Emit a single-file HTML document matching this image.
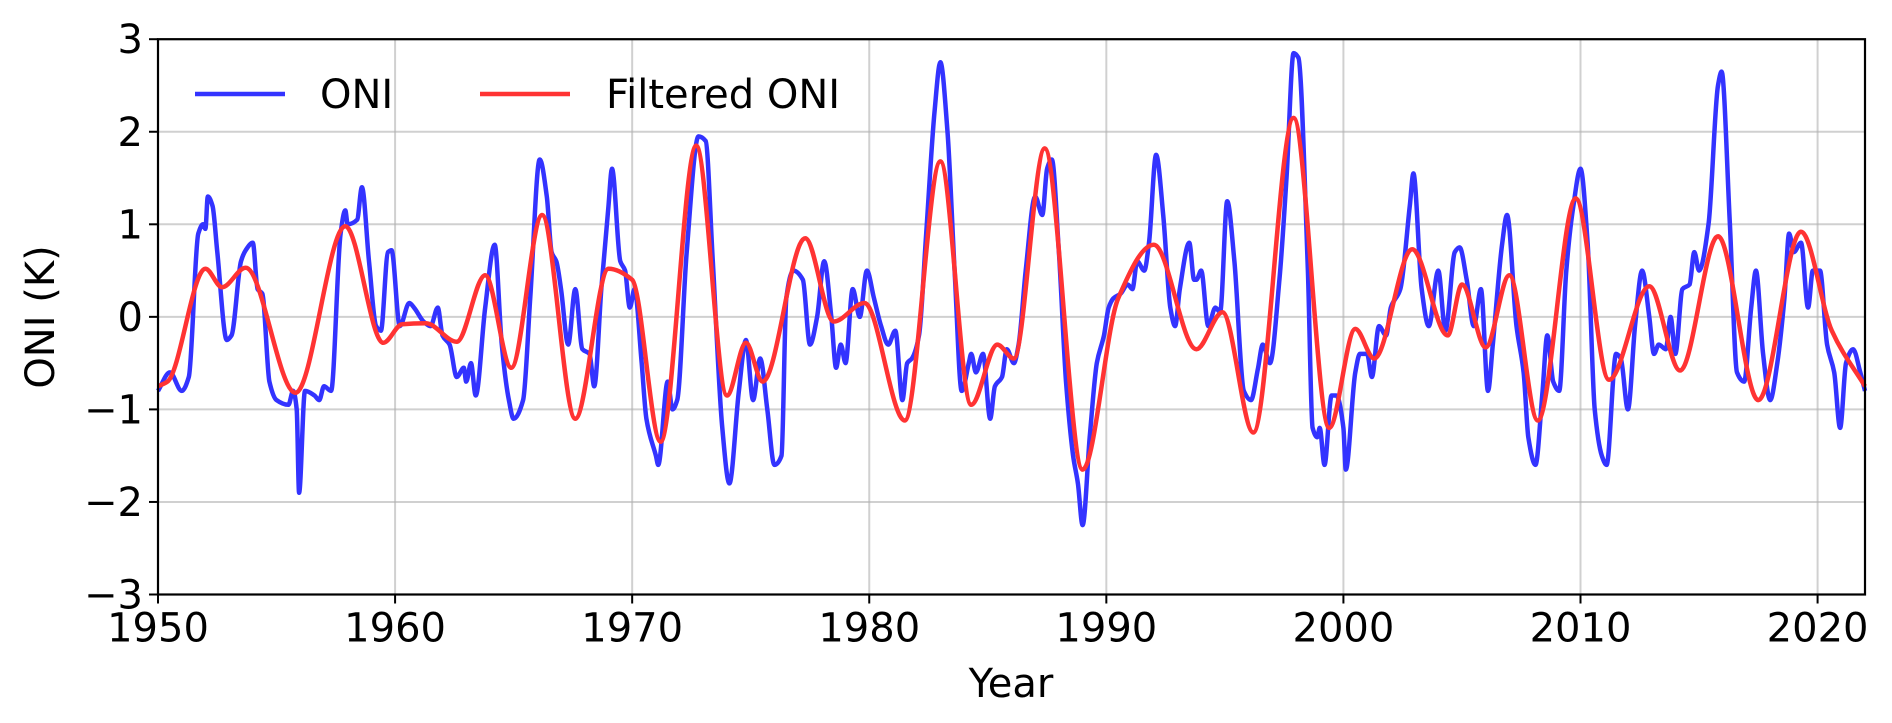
<!DOCTYPE html>
<html><head><meta charset="utf-8"><style>
html,body{margin:0;padding:0;background:#fff;}
svg{display:block;font-family:"DejaVu Sans","Liberation Sans",sans-serif;}
</style></head><body>
<svg id="chart" width="1892" height="723" viewBox="0 0 1892 723">
<g id="grid"></g>
<g id="series"></g>
<rect x="158" y="39.2" width="1707" height="555.3" fill="none" stroke="#000" stroke-width="2.2"/>
<g id="ticks"></g>
<text x="1011" y="697" font-size="40" text-anchor="middle">Year</text>
<text transform="translate(54,317) rotate(-90)" font-size="40" text-anchor="middle">ONI (K)</text>
<g>
<g>
<line x1="195" y1="94" x2="285" y2="94" stroke="#3333ff" stroke-width="4.5"/>
<text x="320" y="108" font-size="40">ONI</text></g>
<g>
<line x1="480" y1="94" x2="570" y2="94" stroke="#ff3333" stroke-width="4.5"/>
<text x="606" y="108" font-size="40">Filtered ONI</text></g>
</g>
</svg>
<script>
const xTicks=[1950,1960,1970,1980,1990,2000,2010,2020];
const yTicks=[-3,-2,-1,0,1,2,3];
const yTickLabels=["\u22123","\u22122","\u22121","0","1","2","3"];
const oniYears=[1950.0,1950.5,1951.0,1951.3,1951.7,1951.9,1952.0,1952.1,1952.3,1952.5,1952.9,1953.1,1953.5,1953.7,1954.0,1954.2,1954.4,1954.7,1955.0,1955.5,1955.7,1955.85,1955.95,1956.2,1956.6,1956.8,1957.0,1957.3,1957.7,1957.9,1958.0,1958.4,1958.6,1958.9,1959.2,1959.4,1959.7,1959.85,1960.2,1960.6,1960.8,1961.2,1961.5,1961.8,1962.0,1962.3,1962.6,1962.9,1963.0,1963.2,1963.4,1963.8,1964.2,1964.5,1964.8,1965.0,1965.4,1965.7,1966.1,1966.4,1966.6,1966.8,1967.0,1967.3,1967.6,1967.9,1968.2,1968.4,1968.7,1969.0,1969.15,1969.5,1969.7,1969.9,1970.1,1970.4,1970.6,1971.0,1971.1,1971.5,1971.7,1971.9,1972.3,1972.8,1973.1,1973.4,1973.8,1974.1,1974.5,1974.8,1975.1,1975.4,1975.7,1976.0,1976.3,1976.5,1976.8,1977.2,1977.5,1977.8,1978.1,1978.4,1978.6,1978.8,1979.0,1979.3,1979.6,1979.9,1980.2,1980.5,1980.8,1981.1,1981.4,1981.6,1981.8,1982.1,1982.4,1982.75,1983.0,1983.3,1983.6,1983.9,1984.2,1984.3,1984.5,1984.8,1985.1,1985.3,1985.6,1985.8,1986.1,1986.3,1986.6,1987.0,1987.3,1987.5,1987.7,1988.0,1988.3,1988.6,1988.8,1989.0,1989.3,1989.6,1989.9,1990.1,1990.3,1990.6,1990.9,1991.1,1991.3,1991.6,1991.8,1992.1,1992.4,1992.7,1992.9,1993.1,1993.5,1993.7,1993.8,1994.0,1994.3,1994.6,1994.8,1995.1,1995.4,1995.8,1996.1,1996.4,1996.6,1996.9,1997.3,1997.6,1997.9,1998.1,1998.5,1998.7,1998.9,1999.0,1999.2,1999.5,1999.7,2000.0,2000.1,2000.5,2000.7,2001.0,2001.2,2001.5,2001.8,2002.0,2002.4,2002.8,2002.95,2003.3,2003.6,2004.0,2004.3,2004.7,2004.9,2005.2,2005.5,2005.8,2006.1,2006.3,2006.7,2006.9,2007.3,2007.6,2007.8,2008.1,2008.4,2008.6,2008.85,2009.1,2009.4,2009.7,2010.0,2010.3,2010.6,2010.9,2011.1,2011.5,2011.7,2012.0,2012.3,2012.6,2012.9,2013.1,2013.3,2013.6,2013.8,2014.0,2014.3,2014.6,2014.8,2015.0,2015.4,2015.8,2015.95,2016.3,2016.6,2016.9,2017.2,2017.4,2017.7,2018.0,2018.3,2018.6,2018.8,2019.0,2019.3,2019.6,2019.8,2020.1,2020.4,2020.7,2020.95,2021.2,2021.5,2021.8,2022.0];
const oniValues=[-0.8,-0.6,-0.8,-0.65,0.9,1.0,0.95,1.3,1.2,0.7,-0.25,-0.2,0.6,0.72,0.8,0.3,0.25,-0.7,-0.9,-0.95,-0.8,-1.0,-1.9,-0.8,-0.85,-0.9,-0.75,-0.8,0.9,1.15,1.0,1.05,1.4,0.6,-0.1,-0.15,0.7,0.72,-0.1,0.15,0.1,-0.05,-0.1,0.1,-0.2,-0.3,-0.65,-0.55,-0.7,-0.5,-0.85,0.1,0.78,-0.3,-0.9,-1.1,-0.9,0.2,1.7,1.3,0.7,0.6,0.3,-0.3,0.3,-0.35,-0.4,-0.75,0.3,1.2,1.6,0.6,0.5,0.1,0.3,-0.5,-1.1,-1.5,-1.6,-0.7,-1.0,-0.9,0.7,1.95,1.9,0.6,-1.2,-1.8,-0.8,-0.25,-0.9,-0.45,-1.0,-1.6,-1.5,0.2,0.5,0.4,-0.3,0.0,0.6,0.0,-0.55,-0.3,-0.5,0.3,0.0,0.5,0.2,-0.1,-0.3,-0.15,-0.9,-0.5,-0.45,-0.2,0.9,2.2,2.75,2.0,0.5,-0.8,-0.5,-0.4,-0.6,-0.4,-1.1,-0.75,-0.65,-0.35,-0.5,-0.3,0.5,1.3,1.1,1.6,1.7,0.7,-0.7,-1.5,-1.8,-2.25,-1.3,-0.5,-0.2,0.1,0.2,0.25,0.35,0.3,0.6,0.5,0.8,1.75,1.1,0.1,-0.1,0.3,0.8,0.4,0.4,0.5,-0.1,0.1,0.05,1.25,0.6,-0.8,-0.9,-0.55,-0.3,-0.5,0.4,1.5,2.85,2.8,0.5,-1.2,-1.3,-1.2,-1.6,-0.85,-0.85,-1.2,-1.65,-0.6,-0.4,-0.4,-0.65,-0.1,-0.2,0.1,0.3,1.2,1.55,0.3,-0.1,0.5,-0.15,0.7,0.75,0.4,-0.1,0.3,-0.8,-0.3,0.8,1.1,-0.1,-0.6,-1.3,-1.6,-0.8,-0.2,-0.7,-0.8,0.5,1.2,1.6,0.8,-1.0,-1.5,-1.6,-0.4,-0.45,-1.0,-0.1,0.5,0.0,-0.4,-0.3,-0.35,0.0,-0.4,0.3,0.35,0.7,0.5,1.0,2.5,2.65,1.0,-0.6,-0.7,0.1,0.5,-0.4,-0.9,-0.5,0.2,0.9,0.7,0.8,0.1,0.5,0.5,-0.3,-0.6,-1.2,-0.5,-0.35,-0.6,-0.8];
const filtYears=[1950.0,1950.4,1952.0,1952.7,1953.7,1955.8,1957.9,1959.5,1960.3,1961.3,1962.6,1963.8,1964.9,1966.2,1967.6,1969.0,1970.0,1971.2,1972.7,1974.0,1974.8,1975.5,1977.3,1978.5,1979.8,1981.5,1983.0,1984.3,1985.4,1986.1,1987.4,1989.0,1990.5,1992.0,1993.8,1994.9,1996.2,1997.9,1999.4,2000.5,2001.3,2002.9,2004.4,2005.0,2006.0,2007.0,2008.2,2009.8,2011.2,2012.9,2014.2,2015.8,2017.5,2019.3,2020.6,2022.0];
const filtValues=[-0.75,-0.7,0.52,0.32,0.53,-0.82,0.98,-0.28,-0.08,-0.07,-0.27,0.45,-0.55,1.1,-1.1,0.52,0.4,-1.35,1.85,-0.85,-0.28,-0.7,0.85,-0.05,0.15,-1.12,1.68,-0.95,-0.3,-0.45,1.82,-1.65,0.2,0.78,-0.35,0.05,-1.25,2.15,-1.2,-0.13,-0.45,0.73,-0.2,0.35,-0.33,0.45,-1.12,1.28,-0.68,0.33,-0.58,0.87,-0.9,0.92,-0.15,-0.75];

const X0=158,X1=1865,Y0=594.5,Y1=39.2,YR0=1950,YR1=2022,V0=-3,V1=3;
function xs(t){return X0+(t-YR0)/(YR1-YR0)*(X1-X0);}
function ys(v){return Y0-(v-V0)/(V1-V0)*(Y0-Y1);}
const NS="http://www.w3.org/2000/svg";
function mk(tag,attrs,parent){const e=document.createElementNS(NS,tag);for(const k in attrs)e.setAttribute(k,attrs[k]);parent.appendChild(e);return e;}
const grid=document.getElementById('grid'),ticks=document.getElementById('ticks'),series=document.getElementById('series');
xTicks.forEach(t=>{
  const g=mk('line',{x1:xs(t),x2:xs(t),y1:Y1,y2:Y0,stroke:'#b0b0b0','stroke-width':2,'stroke-opacity':0.6},grid);
  
  
  const tk=mk('line',{x1:xs(t),x2:xs(t),y1:Y0,y2:Y0+9,stroke:'#000','stroke-width':2},ticks);
  
  
  const tx=mk('text',{x:xs(t),y:Y0+47,'font-size':40,'text-anchor':'middle'},ticks);
  tx.textContent=String(t);
  
  
});
yTicks.forEach((v,i)=>{
  const g=mk('line',{x1:X0,x2:X1,y1:ys(v),y2:ys(v),stroke:'#b0b0b0','stroke-width':2,'stroke-opacity':0.6},grid);
  
  
  const tk=mk('line',{x1:X0-9,x2:X0,y1:ys(v),y2:ys(v),stroke:'#000','stroke-width':2},ticks);
  
  
  const tx=mk('text',{x:X0-15,y:ys(v)+14,'font-size':40,'text-anchor':'end'},ticks);
  tx.textContent=yTickLabels[i];
  
  
});
function monotone(xsA,ysA){
  const n=xsA.length,d=[],m=new Array(n);
  for(let i=0;i<n-1;i++)d.push((ysA[i+1]-ysA[i])/(xsA[i+1]-xsA[i]));
  m[0]=d[0];m[n-1]=d[n-2];
  for(let i=1;i<n-1;i++){ if(d[i-1]*d[i]<=0)m[i]=0; else {const w1=2*(xsA[i+1]-xsA[i])+(xsA[i]-xsA[i-1]),w2=(xsA[i+1]-xsA[i])+2*(xsA[i]-xsA[i-1]);m[i]=(w1+w2)/(w1/d[i-1]+w2/d[i]);} }
  let p='M'+xsA[0].toFixed(1)+','+ysA[0].toFixed(1);
  for(let i=0;i<n-1;i++){const h=xsA[i+1]-xsA[i];
    p+='C'+(xsA[i]+h/3).toFixed(1)+','+(ysA[i]+m[i]*h/3).toFixed(1)+' '+(xsA[i+1]-h/3).toFixed(1)+','+(ysA[i+1]-m[i+1]*h/3).toFixed(1)+' '+xsA[i+1].toFixed(1)+','+ysA[i+1].toFixed(1);}
  return p;
}
const oni=mk('path',{d:monotone(oniYears.map(xs),oniValues.map(ys)),fill:'none',stroke:'#3333ff','stroke-width':4.5,'stroke-linejoin':'round'},series);


const fl=mk('path',{d:monotone(filtYears.map(xs),filtValues.map(ys)),fill:'none',stroke:'#ff3333','stroke-width':4.5,'stroke-linejoin':'round'},series);


</script>
</body></html>
